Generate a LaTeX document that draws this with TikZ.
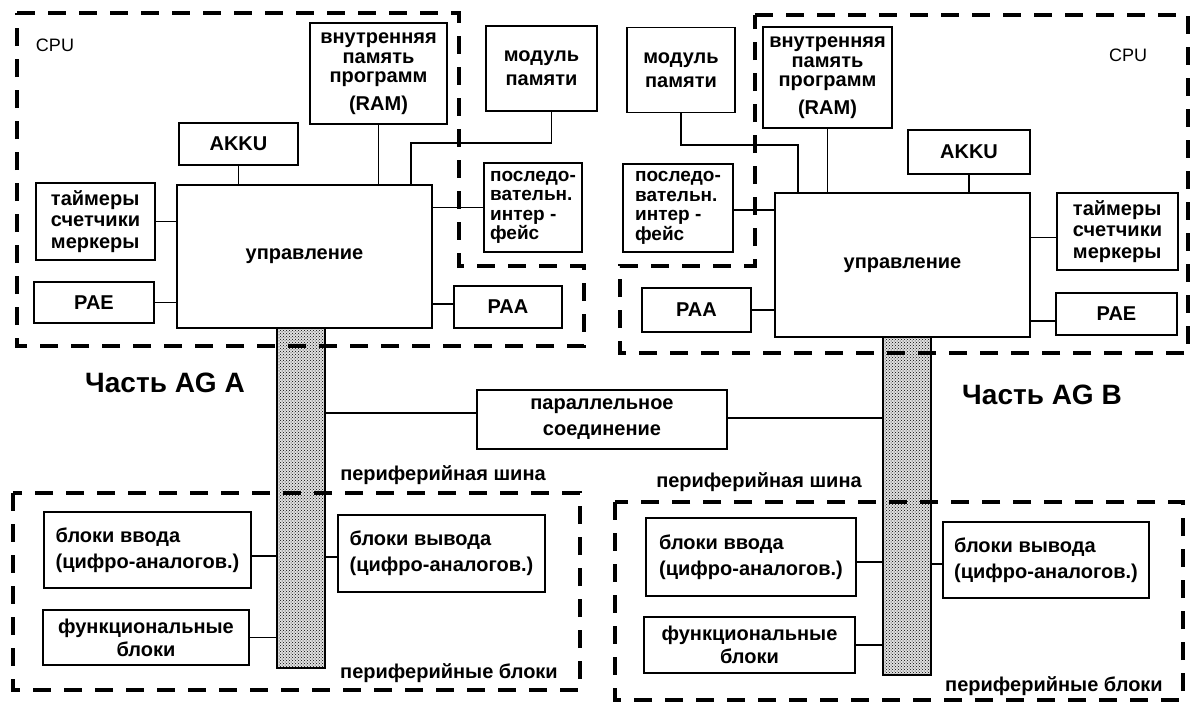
\documentclass[tikz,border=0pt]{standalone}
\usepackage{fontspec}
\setmainfont{Liberation Sans}
\usetikzlibrary{patterns}

\begin{document}
\begin{tikzpicture}[x=1pt,y=-1pt,
    blk/.style={draw,line width=1.6pt,inner sep=2pt,align=center,font=\bfseries\fontsize{20}{21.5}\selectfont},
    wire/.style={line width=1.3pt},
    zone/.style={line width=3.8pt,dash pattern=on 18pt off 13pt},
    bus/.style={draw,line width=1.6pt,preaction={fill=black!12},pattern=crosshatch dots,inner sep=0pt},
    lbl/.style={inner sep=0pt,font=\bfseries\fontsize{20}{20}\selectfont}]
  \useasboundingbox (0,0) rectangle (1192,710);

  % Teil A
  \node[blk,font=\bfseries\fontsize{20}{19.5}\selectfont,minimum width=137pt,minimum height=101pt](RAMa) at (378.5,73.5){внутренняя\\память\\программ\\[8pt](RAM)};
  \node[blk,font=\bfseries\fontsize{20}{24}\selectfont,minimum width=111pt,minimum height=85pt](MODa) at (541.5,68.5){модуль\\памяти};
  \node[blk,minimum width=119pt,minimum height=42pt](AKKUa) at (238.5,144){AKKU};
  \node[blk,align=left,minimum width=119pt,minimum height=77pt](TIMa) at (95.5,221.5){таймеры\\счетчики\\меркеры};
  \node[blk,minimum width=255pt,minimum height=143pt](CTRLa) at (304.5,256.5){управление};
  \node[blk,align=left,font=\bfseries\fontsize{19}{19.5}\selectfont,minimum width=98pt,minimum height=89pt](SERa) at (533,207.5){последо-\\вательн.\\интер -\\фейс};
  \node[blk,minimum width=120pt,minimum height=41pt](PAEa) at (94,302.5){PAE};
  \node[blk,minimum width=108pt,minimum height=42pt](PAAa) at (508,307){PAA};
  \node[bus,minimum width=48pt,minimum height=340pt](BUSa) at (301,498){};
  \node[blk,align=left,font=\bfseries\fontsize{20}{26}\selectfont,minimum width=207pt,minimum height=76pt](INa) at (147.5,550){блоки ввода\\(цифро-аналогов.)};
  \node[blk,align=left,font=\bfseries\fontsize{20}{26}\selectfont,minimum width=207pt,minimum height=77pt](OUTa) at (441.5,553.5){блоки вывода\\(цифро-аналогов.)};
  \node[blk,font=\bfseries\fontsize{20}{23}\selectfont,minimum width=206pt,minimum height=55pt](FUNa) at (146,637.5){функциональные\\блоки};

  % Verbindung
  \node[blk,font=\bfseries\fontsize{20}{26}\selectfont,minimum width=250pt,minimum height=59pt](PAR) at (602,419.5){параллельное\\соединение};

  % Teil B
  \node[blk,font=\bfseries\fontsize{20}{24}\selectfont,minimum width=108pt,minimum height=85pt](MODb) at (681,70){модуль\\памяти};
  \node[blk,font=\bfseries\fontsize{20}{19.5}\selectfont,minimum width=129pt,minimum height=101pt](RAMb) at (827.5,77.5){внутренняя\\память\\программ\\[8pt](RAM)};
  \node[blk,minimum width=122pt,minimum height=44pt](AKKUb) at (969,152){AKKU};
  \node[blk,align=left,font=\bfseries\fontsize{19}{19.5}\selectfont,minimum width=110pt,minimum height=88pt](SERb) at (678,208){последо-\\вательн.\\интер -\\фейс};
  \node[blk,minimum width=255pt,minimum height=144pt](CTRLb) at (902.5,265){управление};
  \node[blk,align=left,minimum width=121pt,minimum height=77pt](TIMb) at (1117.5,231.5){таймеры\\счетчики\\меркеры};
  \node[blk,minimum width=109pt,minimum height=44pt](PAAb) at (696.5,310){PAA};
  \node[blk,minimum width=121pt,minimum height=42pt](PAEb) at (1116.5,314){PAE};
  \node[bus,minimum width=48pt,minimum height=338pt](BUSb) at (907,506){};
  \node[blk,align=left,font=\bfseries\fontsize{20}{26}\selectfont,minimum width=210pt,minimum height=78pt](INb) at (751,557){блоки ввода\\(цифро-аналогов.)};
  \node[blk,align=left,font=\bfseries\fontsize{20}{26}\selectfont,minimum width=206pt,minimum height=76pt](OUTb) at (1046,560){блоки вывода\\(цифро-аналогов.)};
  \node[blk,font=\bfseries\fontsize{20}{23}\selectfont,minimum width=211pt,minimum height=56pt](FUNb) at (749.5,645){функциональные\\блоки};

  \coordinate (Ka) at (411,143);
  \coordinate (Kb) at (798,145);

  \path [wire]
    (AKKUa.south) edge (AKKUa.south |- CTRLa.north)
    (RAMa.south) edge (RAMa.south |- CTRLa.north)
    (TIMa.east) edge (TIMa.east -| CTRLa.west)
    (PAEa.east) edge (PAEa.east -| CTRLa.west)
    ([yshift=3pt]PAAa.west) edge ([yshift=3pt]PAAa.west -| CTRLa.east)
    (SERa.west) edge (SERa.west -| CTRLa.east)
    ([yshift=-6pt]INa.east) edge ([yshift=-6pt]INa.east -| BUSa.west)
    ([yshift=-3.5pt]OUTa.west) edge ([yshift=-3.5pt]OUTa.west -| BUSa.east)
    (FUNa.east) edge (FUNa.east -| BUSa.west)
    ([yshift=6.5pt]PAR.west) edge ([yshift=6.5pt]PAR.west -| BUSa.east)
    ([yshift=1.5pt]PAR.east) edge ([yshift=1.5pt]PAR.east -| BUSb.west)
    (AKKUb.south) edge (AKKUb.south |- CTRLb.north)
    (RAMb.south) edge (RAMb.south |- CTRLb.north)
    ([yshift=-6pt]TIMb.west) edge ([yshift=-6pt]TIMb.west -| CTRLb.east)
    ([yshift=-7pt]PAEb.west) edge ([yshift=-7pt]PAEb.west -| CTRLb.east)
    (PAAb.east) edge (PAAb.east -| CTRLb.west)
    ([yshift=-2pt]SERb.east) edge ([yshift=-2pt]SERb.east -| CTRLb.west)
    ([yshift=-5pt]INb.east) edge ([yshift=-5pt]INb.east -| BUSb.west)
    ([yshift=-4pt]OUTb.west) edge ([yshift=-4pt]OUTb.west -| BUSb.east)
    (FUNb.east) edge (FUNb.east -| BUSb.west);
  \draw[wire] ([xshift=10pt]MODa.south) |- (Ka) -- (Ka |- CTRLa.north);
  \draw[wire] (MODb.south) |- (Kb) -- (Kb |- CTRLb.north);

  \draw[zone] (17,13) -- (459,13) -- (459,266) -- (584,266) -- (584,346) -- (17,346) -- cycle;
  \draw[zone] (755,15) -- (1188,15) -- (1188,353) -- (620,353) -- (620,266) -- (755,266) -- cycle;
  \draw[zone] (13,493) rectangle (580,690);
  \draw[zone] (615,502) rectangle (1183,700);

  \node[lbl,font=\fontsize{18}{18}\selectfont](CPUa) at (55,45){CPU};
  \node[lbl,font=\fontsize{18}{18}\selectfont](CPUb) at (1128,55){CPU};
  \node[lbl,font=\bfseries\fontsize{28}{28}\selectfont](AGa) at (165,383){Часть AG A};
  \node[lbl,font=\bfseries\fontsize{28}{28}\selectfont](AGb) at (1042,395){Часть AG B};
  \node[lbl](PBa) at (443,475){периферийная шина};
  \node[lbl](PBb) at (759,482){периферийная шина};
  \node[lbl](PKa) at (449,673){периферийные блоки};
  \node[lbl](PKb) at (1054,686){периферийные блоки};
\end{tikzpicture}
\end{document}
